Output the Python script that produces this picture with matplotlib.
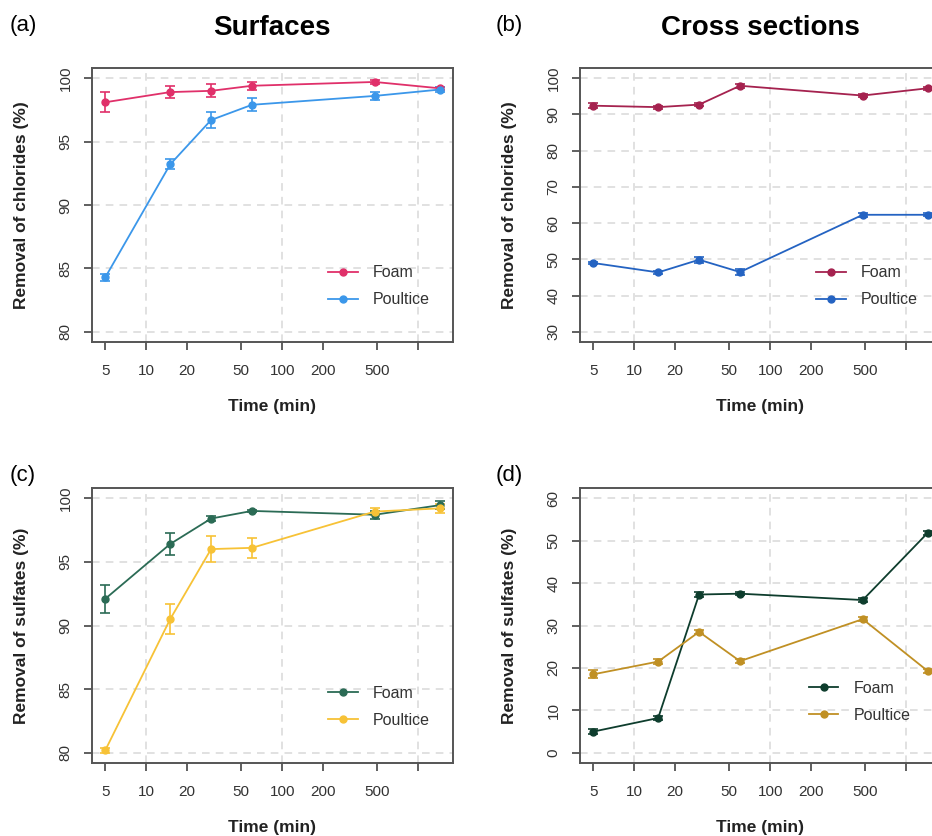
import numpy as np
import matplotlib
matplotlib.use("Agg")
import matplotlib.pyplot as plt

plt.rcParams['font.family'] = ['Liberation Sans', 'DejaVu Sans']

# sampling times (min)
time = [5, 15, 30, 60, 480, 1440]

# (a) surfaces, chlorides
a_foam = [98.1, 98.9, 99.0, 99.4, 99.7, 99.2]
a_foam_err = [0.8, 0.5, 0.5, 0.3, 0.15, 0.1]
a_poul = [84.3, 93.2, 96.7, 97.9, 98.6, 99.1]
a_poul_err = [0.3, 0.4, 0.6, 0.5, 0.3, 0.2]

# (b) cross sections, chlorides
b_foam = [92.4, 92.0, 92.7, 97.9, 95.2, 97.2]
b_foam_err = [0.7, 0.4, 0.5, 0.5, 0.4, 0.4]
b_poul = [49.0, 46.4, 49.9, 46.5, 62.3, 62.3]
b_poul_err = [0.4, 0.4, 0.8, 0.8, 0.5, 0.4]

# (c) surfaces, sulfates
c_foam = [92.1, 96.4, 98.4, 99.0, 98.7, 99.45]
c_foam_err = [1.1, 0.9, 0.2, 0.1, 0.3, 0.3]
c_poul = [80.2, 90.5, 96.0, 96.1, 98.95, 99.2]
c_poul_err = [0.2, 1.2, 1.0, 0.8, 0.3, 0.35]

# (d) cross sections, sulfates
d_foam = [5.0, 8.2, 37.3, 37.5, 36.0, 51.8]
d_foam_err = [0.5, 0.5, 0.5, 0.4, 0.4, 0.5]
d_poul = [18.5, 21.5, 28.5, 21.6, 31.5, 19.3]
d_poul_err = [0.9, 0.6, 0.5, 0.5, 0.5, 0.5]

xticks = [5, 10, 20, 50, 100, 200, 500, 1000]
xticklabels = ['5', '10', '20', '50', '100', '200', '500', '']

W, H = 932, 836
fig = plt.figure(figsize=(W / 100, H / 100), dpi=100)


def px_axes(left, top, right, bottom):
    return fig.add_axes([left / W, 1 - bottom / H, (right - left) / W, (bottom - top) / H])


def panel(ax, foam, foam_err, poul, poul_err, c_foam, c_poul, ylim, yticks, ylabel, leg_xy):
    ax.set_xscale('log')
    for y in yticks:
        ax.axhline(y, color='#d9d9d9', lw=1.1, ls=(0, (5, 4)), zorder=0)
    for x in [10, 100, 1000]:
        ax.axvline(x, color='#d9d9d9', lw=1.1, ls=(0, (5, 4)), zorder=0)

    for vals, err, col, lab in [(foam, foam_err, c_foam, 'Foam'), (poul, poul_err, c_poul, 'Poultice')]:
        ax.errorbar(time, vals, yerr=err, fmt='none', ecolor=col, elinewidth=1.2,
                    capsize=3.8, capthick=1.2, zorder=3)
        ax.plot(time, vals, '-o', color=col, lw=1.3, ms=5, label=lab, zorder=4)

    ax.set_xlim(10 ** 0.601, 10 ** 3.257)
    ax.set_ylim(*ylim)
    ax.set_xticks(xticks)
    ax.set_xticklabels(xticklabels)
    ax.minorticks_off()
    ax.set_yticks(yticks)
    ax.set_yticklabels([str(v) for v in yticks], rotation=90, va='center')
    ax.tick_params(axis='both', length=6, width=1.2, color='#444444',
                   labelsize=11, labelcolor='#333333')
    ax.tick_params(axis='x', pad=10)
    ax.tick_params(axis='y', pad=8)
    for s in ax.spines.values():
        s.set_color('#555555')
        s.set_linewidth(1.4)

    ax.text(-0.195, 0.5, ylabel, transform=ax.transAxes, rotation=90,
            ha='center', va='center', fontsize=12.5, fontweight='bold', color='#222222')
    ax.text(0.5, -0.234, 'Time (min)', transform=ax.transAxes,
            ha='center', va='center', fontsize=12.5, fontweight='bold', color='#222222')

    leg = ax.legend(loc='center left', bbox_to_anchor=leg_xy, frameon=False, fontsize=11.5,
                    numpoints=1, handlelength=1.85, handletextpad=0.95, labelspacing=0.75,
                    borderpad=0, borderaxespad=0)
    for t in leg.get_texts():
        t.set_color('#333333')


ax_a = px_axes(92, 68, 453, 342)
ax_b = px_axes(580, 68, 941, 342)
ax_c = px_axes(92, 488, 453, 763)
ax_d = px_axes(580, 488, 941, 763)

panel(ax_a, a_foam, a_foam_err, a_poul, a_poul_err, '#e0306a', '#3b97ea',
      (79.2, 100.8), [80, 85, 90, 95, 100], 'Removal of chlorides (%)', (0.654, 0.203))
panel(ax_b, b_foam, b_foam_err, b_poul, b_poul_err, '#a5224f', '#2463c2',
      (27.2, 102.8), [30, 40, 50, 60, 70, 80, 90, 100], 'Removal of chlorides (%)', (0.654, 0.203))
panel(ax_c, c_foam, c_foam_err, c_poul, c_poul_err, '#2b6b55', '#f7c236',
      (79.2, 100.8), [80, 85, 90, 95, 100], 'Removal of sulfates (%)', (0.654, 0.205))
panel(ax_d, d_foam, d_foam_err, d_poul, d_poul_err, '#0e3d2d', '#c09024',
      (-2.4, 62.4), [0, 10, 20, 30, 40, 50, 60], 'Removal of sulfates (%)', (0.634, 0.223))

fig.text(272 / W, 1 - 28 / H, 'Surfaces', ha='center', va='center', fontsize=20, fontweight='bold')
fig.text(760 / W, 1 - 28 / H, 'Cross sections', ha='center', va='center', fontsize=20, fontweight='bold')
for lab, x, y in [('(a)', 10, 26), ('(b)', 496, 26), ('(c)', 10, 476), ('(d)', 496, 476)]:
    fig.text(x / W, 1 - y / H, lab, ha='left', va='center', fontsize=16)

fig.savefig('out.png', dpi=100)
